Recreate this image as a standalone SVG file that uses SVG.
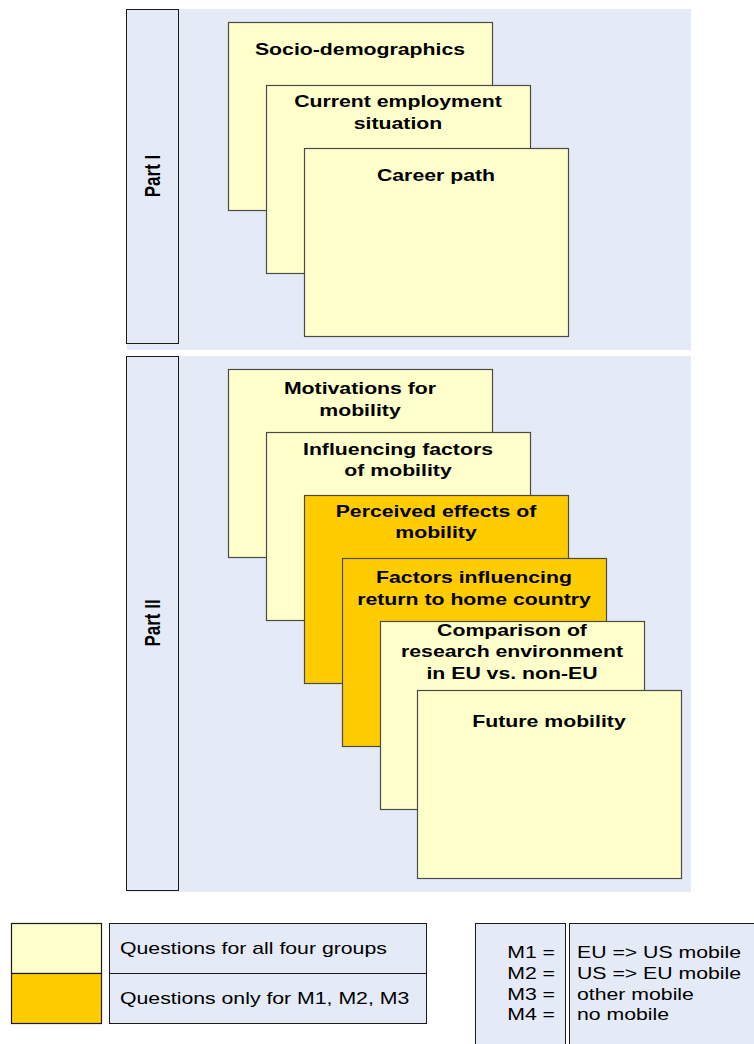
<svg xmlns="http://www.w3.org/2000/svg" width="754" height="1044" viewBox="0 0 754 1044">
<style>
.bg{fill:#E5EBF6;stroke:none}
.side{fill:#E5EBF6;stroke:#1a1a1a;stroke-width:1}
.y{fill:#FFFFCC;stroke:#4a4a4a;stroke-width:1.2}
.o{fill:#FFCC00;stroke:#4a4a4a;stroke-width:1.2}
.lg{fill:#E5EBF6;stroke:#1a1a1a;stroke-width:1}
.t{font-family:"Liberation Sans",Arial,sans-serif;font-weight:bold;font-size:17px;fill:#000;text-anchor:middle}
.r{font-family:"Liberation Sans",Arial,sans-serif;font-size:17px;fill:#000}
</style>
<rect width="754" height="1044" fill="#fff"/>
<g id="panel1">
<rect class="bg" x="127" y="9" width="564" height="341"/>
<rect class="side" x="126.5" y="9.5" width="52" height="334"/>
<text class="t" transform="translate(160,176) scale(1.25,1) rotate(-90)">Part I</text>
</g>
<g id="panel2">
<rect class="bg" x="127" y="356" width="564" height="536"/>
<rect class="side" x="126.5" y="356.5" width="52" height="534"/>
<text class="t" transform="translate(160,623) scale(1.25,1) rotate(-90)">Part II</text>
</g>
<g id="socio">
<rect class="y" x="228.5" y="22.5" width="264" height="188"/>
<text class="t" transform="translate(360,55) scale(1.25,1)">Socio-demographics</text>
</g>
<g id="employment">
<rect class="y" x="266.5" y="85.5" width="264" height="188"/>
<text class="t" transform="translate(398,107) scale(1.25,1)">Current employment</text>
<text class="t" transform="translate(398,129) scale(1.25,1)">situation</text>
</g>
<g id="career">
<rect class="y" x="304.5" y="148.5" width="264" height="188"/>
<text class="t" transform="translate(436,181) scale(1.25,1)">Career path</text>
</g>
<g id="motivations">
<rect class="y" x="228.5" y="369.5" width="264" height="188"/>
<text class="t" transform="translate(360,394) scale(1.25,1)">Motivations for</text>
<text class="t" transform="translate(360,416) scale(1.25,1)">mobility</text>
</g>
<g id="influencing">
<rect class="y" x="266.5" y="432.5" width="264" height="188"/>
<text class="t" transform="translate(398,455) scale(1.25,1)">Influencing factors</text>
<text class="t" transform="translate(398,476) scale(1.25,1)">of mobility</text>
</g>
<g id="perceived">
<rect class="o" x="304.5" y="495.5" width="264" height="188"/>
<text class="t" transform="translate(436,517) scale(1.25,1)">Perceived effects of</text>
<text class="t" transform="translate(436,538) scale(1.25,1)">mobility</text>
</g>
<g id="factors">
<rect class="o" x="342.5" y="558.5" width="264" height="188"/>
<text class="t" transform="translate(474,583) scale(1.25,1)">Factors influencing</text>
<text class="t" transform="translate(474,605) scale(1.25,1)">return to home country</text>
</g>
<g id="comparison">
<rect class="y" x="380.5" y="621.5" width="264" height="188"/>
<text class="t" transform="translate(512,636) scale(1.25,1)">Comparison of</text>
<text class="t" transform="translate(512,657) scale(1.25,1)">research environment</text>
<text class="t" transform="translate(512,679) scale(1.25,1)">in EU vs. non-EU</text>
</g>
<g id="future">
<rect class="y" x="417.5" y="690.5" width="264" height="188"/>
<text class="t" transform="translate(549,727) scale(1.25,1)">Future mobility</text>
</g>
<g id="connectors"></g>
<g id="legend-colors">
<rect class="y" x="11.5" y="923.5" width="90" height="50" style="stroke:#1a1a1a"/>
<rect class="o" x="11.5" y="973.5" width="90" height="50" style="stroke:#1a1a1a"/>
<rect class="lg" x="109.5" y="923.5" width="317" height="50"/>
<rect class="lg" x="109.5" y="973.5" width="317" height="50"/>
<text class="r" transform="translate(120,954) scale(1.25,1)">Questions for all four groups</text>
<text class="r" transform="translate(120,1004) scale(1.25,1)">Questions only for M1, M2, M3</text>
</g>
<g id="legend-groups">
<rect class="lg" x="475.5" y="923.5" width="90" height="130"/>
<rect class="lg" x="569.5" y="923.5" width="200" height="130"/>
<text class="r" transform="translate(555,958) scale(1.25,1)" text-anchor="end">M1 =</text>
<text class="r" transform="translate(555,979) scale(1.25,1)" text-anchor="end">M2 =</text>
<text class="r" transform="translate(555,999.5) scale(1.25,1)" text-anchor="end">M3 =</text>
<text class="r" transform="translate(555,1020) scale(1.25,1)" text-anchor="end">M4 =</text>
<text class="r" transform="translate(577,958) scale(1.25,1)">EU =&gt; US mobile</text>
<text class="r" transform="translate(577,979) scale(1.25,1)">US =&gt; EU mobile</text>
<text class="r" transform="translate(577,999.5) scale(1.25,1)">other mobile</text>
<text class="r" transform="translate(577,1020) scale(1.25,1)">no mobile</text>
</g>
</svg>
